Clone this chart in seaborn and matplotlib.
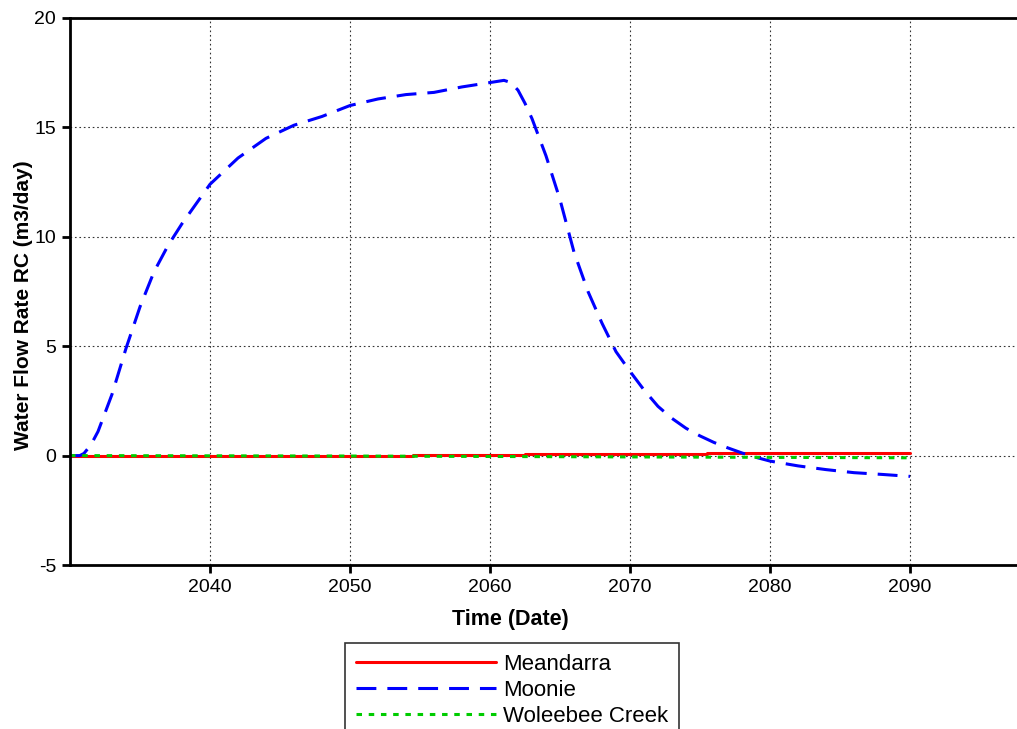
import numpy as np
import pandas as pd
import matplotlib
matplotlib.use("Agg")
import matplotlib.pyplot as plt
import seaborn as sns

# series (year, m3/day)
moonie_years = [2030, 2030.7, 2031, 2031.5, 2032, 2033, 2034, 2035, 2036, 2037, 2038, 2039,
                2040, 2042, 2044, 2046, 2048, 2050, 2052, 2054, 2056, 2058, 2060, 2061,
                2061.5, 2062, 2062.5, 2063, 2064, 2065, 2066, 2067, 2068, 2069, 2070,
                2071, 2072, 2073, 2074, 2075, 2076, 2077, 2078, 2079, 2080, 2082, 2084,
                2086, 2088, 2090]
moonie_rate = [0.0, 0.0, 0.1, 0.5, 1.1, 2.8, 4.9, 6.8, 8.4, 9.6, 10.6, 11.5,
               12.4, 13.6, 14.5, 15.1, 15.5, 16.0, 16.3, 16.5, 16.6, 16.85, 17.05, 17.15,
               17.05, 16.7, 16.1, 15.4, 13.7, 11.7, 9.3, 7.5, 6.05, 4.75, 3.85,
               3.0, 2.25, 1.7, 1.25, 0.9, 0.6, 0.35, 0.12, -0.08, -0.25, -0.47, -0.64,
               -0.78, -0.86, -0.95]

meandarra_years = [2030, 2054.5, 2054.5, 2062.5, 2062.5, 2075.5, 2075.5, 2090]
meandarra_rate = [0.0, 0.0, 0.03, 0.03, 0.06, 0.06, 0.1, 0.1]

woleebee_years = [2030, 2040, 2050, 2060, 2070, 2080, 2090]
woleebee_rate = [0.0, -0.01, -0.02, -0.04, -0.06, -0.08, -0.1]

series_names = ["Meandarra", "Moonie", "Woleebee Creek"]

df = pd.concat([
    pd.DataFrame({"year": meandarra_years, "rate": meandarra_rate, "site": "Meandarra"}),
    pd.DataFrame({"year": moonie_years, "rate": moonie_rate, "site": "Moonie"}),
    pd.DataFrame({"year": woleebee_years, "rate": woleebee_rate, "site": "Woleebee Creek"}),
], ignore_index=True)

sns.set_style("white")
plt.rcParams["font.family"] = ["Liberation Sans", "DejaVu Sans"]
plt.rcParams["axes.unicode_minus"] = False
plt.rcParams["text.color"] = "black"
plt.rcParams["axes.labelcolor"] = "black"

fig = plt.figure(figsize=(10.17, 7.29), dpi=100)
ax = fig.add_axes([70 / 1017, 1 - 565 / 729, 1 - 70 / 1017, (565 - 18) / 729])

palette = {"Meandarra": "#ff0000", "Moonie": "#0000ff", "Woleebee Creek": "#00cc00"}
dashes = {"Meandarra": "", "Moonie": (6.5, 3.6), "Woleebee Creek": (1.8, 2.2)}
sns.lineplot(data=df, x="year", y="rate", hue="site", style="site",
             hue_order=series_names, style_order=series_names,
             palette=palette, dashes=dashes, linewidth=2.2, sort=False,
             estimator=None, ax=ax)

ax.set_xlim(2030, 2030 + 947 / 14)
ax.set_ylim(-5, 20)
ax.set_xticks([2040, 2050, 2060, 2070, 2080, 2090])
ax.set_yticks([-5, 0, 5, 10, 15, 20])
ax.tick_params(axis="both", direction="out", length=6, width=2, labelsize=14,
               colors="black", left=True, bottom=True, pad=4)
ax.grid(True, color="#333333", linestyle=(0, (1.5, 2.5)), linewidth=0.8)
for side in ["left", "bottom", "top"]:
    ax.spines[side].set_linewidth(2)
    ax.spines[side].set_color("black")
ax.spines["right"].set_visible(False)

ax.set_xlabel("Time (Date)", fontsize=15.5, fontweight="bold")
ax.set_ylabel("Water Flow Rate RC (m3/day)", fontsize=15, fontweight="bold")
ax.xaxis.set_label_coords(0.4646, -0.080)
ax.yaxis.set_label_coords(-0.039, 0.475)

handles, labels = ax.get_legend_handles_labels()
ax.get_legend().remove()
leg = fig.legend(handles, labels, loc="upper center",
                 bbox_to_anchor=(512 / 1017, 1 - 643 / 729), fontsize=16,
                 handlelength=6.3, frameon=True, fancybox=False, edgecolor="black",
                 borderpad=0.5, labelspacing=0.22, handletextpad=0.3,
                 borderaxespad=0)
leg.get_frame().set_linewidth(1.2)

fig.savefig("out.png", dpi=100)
